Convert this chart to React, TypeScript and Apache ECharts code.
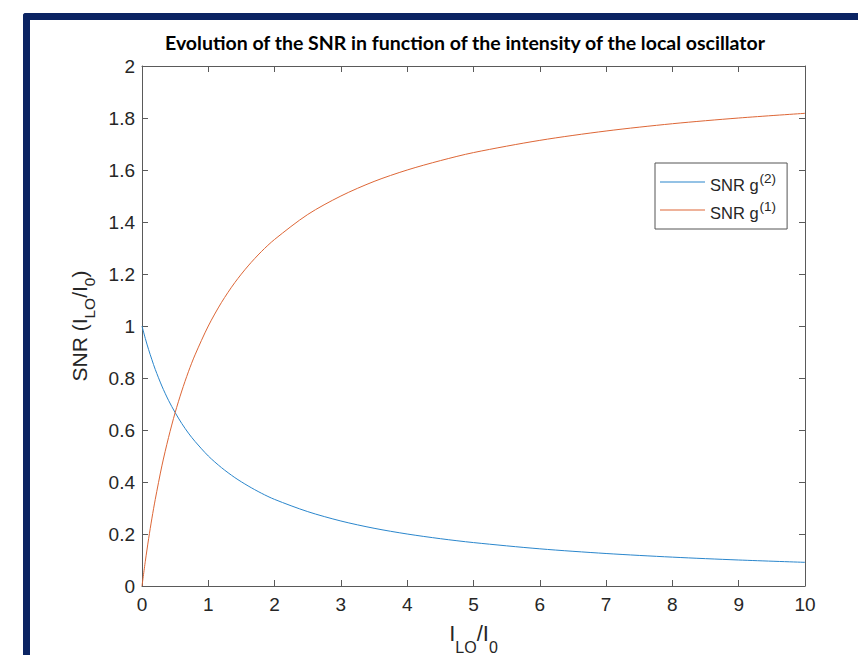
import React, { useEffect, useRef } from "react";
import * as echarts from "echarts";

const xValues = [0, 0.05, 0.1, 0.15, 0.2, 0.3, 0.4, 0.5, 0.6, 0.7, 0.8, 1.0, 1.2, 1.4, 1.6, 1.8, 2, 2.5, 3, 3.5, 4, 4.5, 5, 6, 7, 8, 9, 10];
const snrG2 = [1, 0.952, 0.909, 0.87, 0.833, 0.769, 0.714, 0.667, 0.625, 0.588, 0.556, 0.5, 0.455, 0.417, 0.385, 0.357, 0.333, 0.286, 0.25, 0.222, 0.2, 0.182, 0.167, 0.143, 0.125, 0.111, 0.1, 0.091];
const snrG1 = [0, 0.095, 0.182, 0.261, 0.333, 0.462, 0.571, 0.667, 0.75, 0.824, 0.889, 1.0, 1.091, 1.167, 1.231, 1.286, 1.333, 1.429, 1.5, 1.556, 1.6, 1.636, 1.667, 1.714, 1.75, 1.778, 1.8, 1.818];
const seriesNames = ["SNR g(2)", "SNR g(1)"];
const titleText = "Evolution of the SNR in function of the intensity of the local oscillator";

const FONT = "'Liberation Sans', Arial, sans-serif";
const AXIS_COLOR = "#5a5a5a";
const TEXT_COLOR = "#262626";
const BLUE = "#2a86cc";
const ORANGE = "#dd6636";

export default function App() {
  const ref = useRef<HTMLDivElement>(null);
  useEffect(() => {
    if (!ref.current) return;
    const chart = echarts.init(ref.current, null, { renderer: "svg" });
    const tickCommon = { show: true, inside: true, length: 6, lineStyle: { color: AXIS_COLOR } };
    const lineCommon = { show: true, onZero: false, lineStyle: { color: AXIS_COLOR } };
    chart.setOption({
      animation: false,
      backgroundColor: "#ffffff",
      title: {
        text: titleText,
        left: 460,
        textAlign: "center",
        top: 27,
        textStyle: { fontFamily: "Lato, 'Open Sans', sans-serif", fontWeight: "bold", fontSize: 19.5, color: "#000" },
      },
      grid: { left: 142, top: 66, width: 663, height: 520, containLabel: false, outerBoundsMode: "none" },
      legend: {
        orient: "vertical",
        left: 655,
        top: 163,
        backgroundColor: "#fff",
        borderColor: "#555",
        borderWidth: 1,
        padding: [8, 11, 8, 5],
        itemGap: 6,
        itemWidth: 45,
        itemHeight: 14,
        icon: "path://M0,0 L45,0 L45,1 L0,1 Z",
        itemStyle: { borderWidth: 0 },
        data: seriesNames,
        formatter: (name: string) => (name === seriesNames[0] ? "{a|SNR g}{s|(2)}" : "{a|SNR g}{s|(1)}"),
        textStyle: {
          color: TEXT_COLOR,
          rich: {
            a: { fontFamily: FONT, fontSize: 16.5, color: TEXT_COLOR, verticalAlign: "bottom" },
            s: { fontFamily: FONT, fontSize: 13.5, color: TEXT_COLOR, verticalAlign: "bottom", padding: [0, 0, 8, 1] },
          },
        },
      },
      xAxis: [
        {
          type: "value",
          min: 0,
          max: 10,
          interval: 1,
          axisLine: lineCommon,
          axisTick: tickCommon,
          splitLine: { show: false },
          axisLabel: { color: TEXT_COLOR, fontFamily: FONT, fontSize: 19, margin: 9 },
          name: "{a|I}{s|LO}{a|/I}{s|0}",
          nameLocation: "middle",
          nameGap: 36,
          nameTextStyle: {
            rich: {
              a: { fontFamily: FONT, fontSize: 22, color: TEXT_COLOR, verticalAlign: "top" },
              s: { fontFamily: FONT, fontSize: 16, color: TEXT_COLOR, verticalAlign: "top", padding: [17, 0, 0, 0] },
            },
          },
        },
        {
          type: "value",
          position: "top",
          min: 0,
          max: 10,
          interval: 1,
          axisLine: lineCommon,
          axisTick: tickCommon,
          splitLine: { show: false },
          axisLabel: { show: false },
        },
      ],
      yAxis: [
        {
          type: "value",
          min: 0,
          max: 2,
          interval: 0.2,
          axisLine: lineCommon,
          axisTick: tickCommon,
          splitLine: { show: false },
          axisLabel: {
            color: TEXT_COLOR,
            fontFamily: FONT,
            fontSize: 19,
            margin: 7,
            formatter: (v: number) => String(Math.round(v * 10) / 10),
          },
          name: "{a|SNR (I}{s|LO}{a|/I}{s|0}{a|)}",
          nameLocation: "middle",
          nameRotate: 90,
          nameGap: 45,
          nameTextStyle: {
            rich: {
              a: { fontFamily: FONT, fontSize: 21, color: TEXT_COLOR, verticalAlign: "top" },
              s: { fontFamily: FONT, fontSize: 15.5, color: TEXT_COLOR, verticalAlign: "top", padding: [12, 0, 0, 0] },
            },
          },
        },
        {
          type: "value",
          position: "right",
          min: 0,
          max: 2,
          interval: 0.2,
          axisLine: lineCommon,
          axisTick: tickCommon,
          splitLine: { show: false },
          axisLabel: { show: false },
        },
      ],
      series: [
        {
          name: seriesNames[0],
          type: "line",
          data: xValues.map((x, i) => [x, snrG2[i]]),
          smooth: 0.3,
          symbol: "none",
          lineStyle: { color: BLUE, width: 1 },
          itemStyle: { color: BLUE },
        },
        {
          name: seriesNames[1],
          type: "line",
          data: xValues.map((x, i) => [x, snrG1[i]]),
          smooth: 0.3,
          symbol: "none",
          lineStyle: { color: ORANGE, width: 1 },
          itemStyle: { color: ORANGE },
        },
      ],
      graphic: [
        { type: "rect", shape: { x: 23, y: 13, width: 900, height: 7, r: [3, 0, 0, 0] }, style: { fill: "#0b2463" }, z: 100 },
        { type: "rect", shape: { x: 23, y: 13, width: 7, height: 700, r: [3, 0, 0, 0] }, style: { fill: "#0b2463" }, z: 100 },
      ],
    });
    return () => chart.dispose();
  }, []);
  return <div ref={ref} style={{ position: "absolute", left: 0, top: 0, width: 858, height: 655 }} />;
}
